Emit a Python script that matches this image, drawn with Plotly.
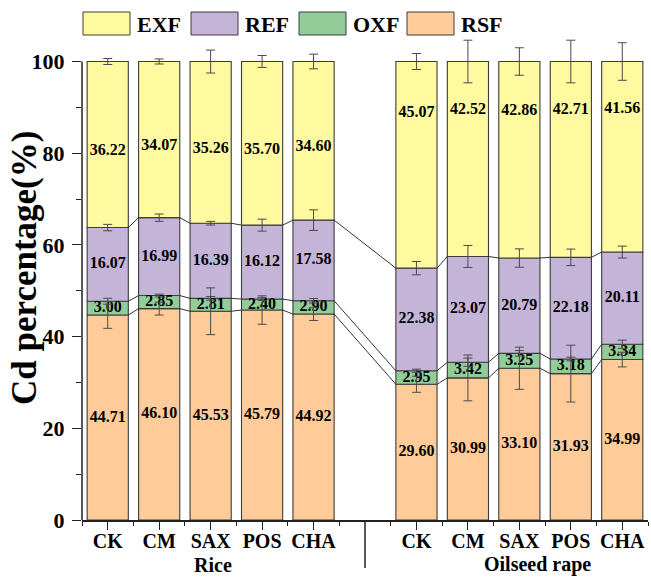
import numpy as np
import plotly.graph_objects as go

# ---- data -------------------------------------------------------------
treatments = ["CK", "CM", "SAX", "POS", "CHA"]
crops = ["Rice", "Oilseed rape"]

# Cd fractions (%) for Rice (first five) then Oilseed rape (last five)
rsf = [44.71, 46.10, 45.53, 45.79, 44.92, 29.60, 30.99, 33.10, 31.93, 34.99]
oxf = [3.00, 2.85, 2.81, 2.40, 2.90, 2.95, 3.42, 3.25, 3.18, 3.34]
ref = [16.07, 16.99, 16.39, 16.12, 17.58, 22.38, 23.07, 20.79, 22.18, 20.11]
exf = [36.22, 34.07, 35.26, 35.70, 34.60, 45.07, 42.52, 42.86, 42.71, 41.56]

# standard deviations of each fraction
rsf_sd = [2.9, 1.4, 5.1, 3.1, 1.4, 1.75, 5.0, 4.6, 6.2, 1.6]
oxf_sd = [0.65, 0.3, 0.4, 0.3, 0.5, 0.35, 0.9, 0.6, 0.4, 0.9]
ref_sd = [0.7, 0.8, 0.4, 1.3, 2.25, 1.45, 2.4, 2.0, 1.8, 1.3]
exf_sd = [0.65, 0.55, 2.5, 1.3, 1.6, 1.75, 4.65, 3.0, 4.65, 4.1]

# ---- layout helpers ---------------------------------------------------
FONT = "Liberation Serif"
W, H = 651, 577
ML, MR, MT, MB = 82, 3, 34, 57
PW, PH = W - ML - MR, H - MT - MB
YMAX = 106
BAR_W = 0.8

pos = np.array([1, 2, 3, 4, 5, 7, 8, 9, 10, 11], dtype=float)
n_per_group = len(treatments)

def px_to_paper_x(px):
    return (px - ML) / PW

def px_to_paper_y(py):
    return (H - MB - py) / PH

series = [
    ("RSF", rsf, rsf_sd, "#FFCC99"),
    ("OXF", oxf, oxf_sd, "#92CC98"),
    ("REF", ref, ref_sd, "#C4B4D8"),
    ("EXF", exf, exf_sd, "#FFF9A0"),
]

fig = go.Figure()

base = np.zeros(len(pos))
tops = []
for name, vals, sd, color in series:
    vals = np.array(vals)
    fig.add_trace(go.Bar(
        x=pos, y=vals, base=base, width=BAR_W, name=name,
        marker=dict(color=color, line=dict(color="#3c3c3c", width=1.1)),
        showlegend=False,
    ))
    top = base + vals
    tops.append((name, base.copy(), vals, top, sd))
    base = top

# connecting lines between neighbouring bars at the three inner boundaries
for name, b, vals, top, sd in tops[:3]:
    xs, ys = [], []
    for i in range(len(pos) - 1):
        xs += [pos[i] + BAR_W / 2, pos[i + 1] - BAR_W / 2, None]
        ys += [top[i], top[i + 1], None]
    fig.add_trace(go.Scatter(
        x=xs, y=ys, mode="lines", line=dict(color="#333333", width=1),
        showlegend=False, hoverinfo="skip",
    ))

# value labels inside each segment
for name, b, vals, top, sd in tops:
    if name == "EXF":
        frac = np.where(np.arange(len(pos)) < n_per_group, 0.46, 0.75)
    else:
        frac = np.full(len(pos), 0.5)
    fig.add_trace(go.Scatter(
        x=pos, y=b + vals * frac, mode="text",
        text=[f"{v:.2f}" for v in vals],
        textfont=dict(family=FONT, size=16, color="black", weight="bold"),
        showlegend=False, hoverinfo="skip",
    ))

# error bars at the top of each stacked segment
for name, b, vals, top, sd in tops:
    fig.add_trace(go.Scatter(
        x=pos, y=top, mode="markers",
        marker=dict(size=1, opacity=0),
        error_y=dict(type="data", array=sd, visible=True,
                     color="#4a4a4a", thickness=1, width=4.5),
        showlegend=False, hoverinfo="skip",
    ))

shapes = []
annotations = []

# left axis line, stopping at 100
shapes.append(dict(type="line", xref="paper", yref="y", x0=0, x1=0, y0=0, y1=100,
                   line=dict(color="#222222", width=1.5)))
# divider between the two crops below the axis
shapes.append(dict(type="line", xref="x", yref="paper", x0=6, x1=6,
                   y0=0, y1=px_to_paper_y(H - MB + 48),
                   line=dict(color="#222222", width=1.5)))

# legend drawn as boxes + labels across the top
legend_order = ["EXF", "REF", "OXF", "RSF"]
colors = {s[0]: s[3] for s in series}
for k, name in enumerate(legend_order):
    x0 = 83 + 108 * k
    shapes.append(dict(type="rect", xref="paper", yref="paper",
                       x0=px_to_paper_x(x0), x1=px_to_paper_x(x0 + 47),
                       y0=px_to_paper_y(35), y1=px_to_paper_y(12),
                       fillcolor=colors[name], line=dict(color="#3c3c3c", width=1)))
    annotations.append(dict(xref="paper", yref="paper",
                            x=px_to_paper_x(x0 + 52), y=px_to_paper_y(25),
                            text=name, showarrow=False, xanchor="left", yanchor="middle",
                            font=dict(family=FONT, size=22, color="black", weight="bold")))

# crop group labels
group_x = [3.05, 9.35]
for gx, label in zip(group_x, crops):
    annotations.append(dict(xref="x", yref="paper", x=gx, y=px_to_paper_y(577),
                            text=label, showarrow=False, xanchor="center", yanchor="bottom",
                            borderpad=0,
                            font=dict(family=FONT, size=20, color="black", weight="bold")))

# y-axis title
annotations.append(dict(xref="paper", yref="paper", x=px_to_paper_x(24), y=px_to_paper_y(268),
                        text="Cd percentage(%)", textangle=-90, showarrow=False,
                        xanchor="center", yanchor="middle",
                        font=dict(family=FONT, size=35, color="black", weight="bold")))

fig.update_layout(
    width=W, height=H,
    margin=dict(l=ML, r=MR, t=MT, b=MB),
    barmode="overlay",
    plot_bgcolor="white", paper_bgcolor="white",
    showlegend=False,
    shapes=shapes, annotations=annotations,
    xaxis=dict(
        range=[0.5, 11.5], showgrid=False, zeroline=False,
        showline=True, linecolor="#222222", linewidth=1.5,
        tickmode="array", tickvals=pos, ticktext=treatments * len(crops),
        ticks="outside", ticklen=8, tickwidth=1.3, tickcolor="#222222",
        ticklabelstandoff=-6,
        tickfont=dict(family=FONT, size=20, color="black", weight="bold"),
        minor=dict(tickmode="array", tickvals=np.arange(0.5, 12, 1.0),
                   ticks="outside", ticklen=4, tickwidth=1, tickcolor="#222222"),
    ),
    yaxis=dict(
        range=[0, YMAX], showgrid=False, zeroline=False, showline=False,
        tickmode="array", tickvals=[0, 20, 40, 60, 80, 100],
        ticks="outside", ticklen=9, tickwidth=1.3, tickcolor="#222222",
        ticklabelstandoff=3,
        tickfont=dict(family=FONT, size=22, color="black", weight="bold"),
        minor=dict(tickmode="array", tickvals=[10, 30, 50, 70, 90],
                   ticks="outside", ticklen=5, tickwidth=1, tickcolor="#222222"),
    ),
)

fig.write_html("out.html")
